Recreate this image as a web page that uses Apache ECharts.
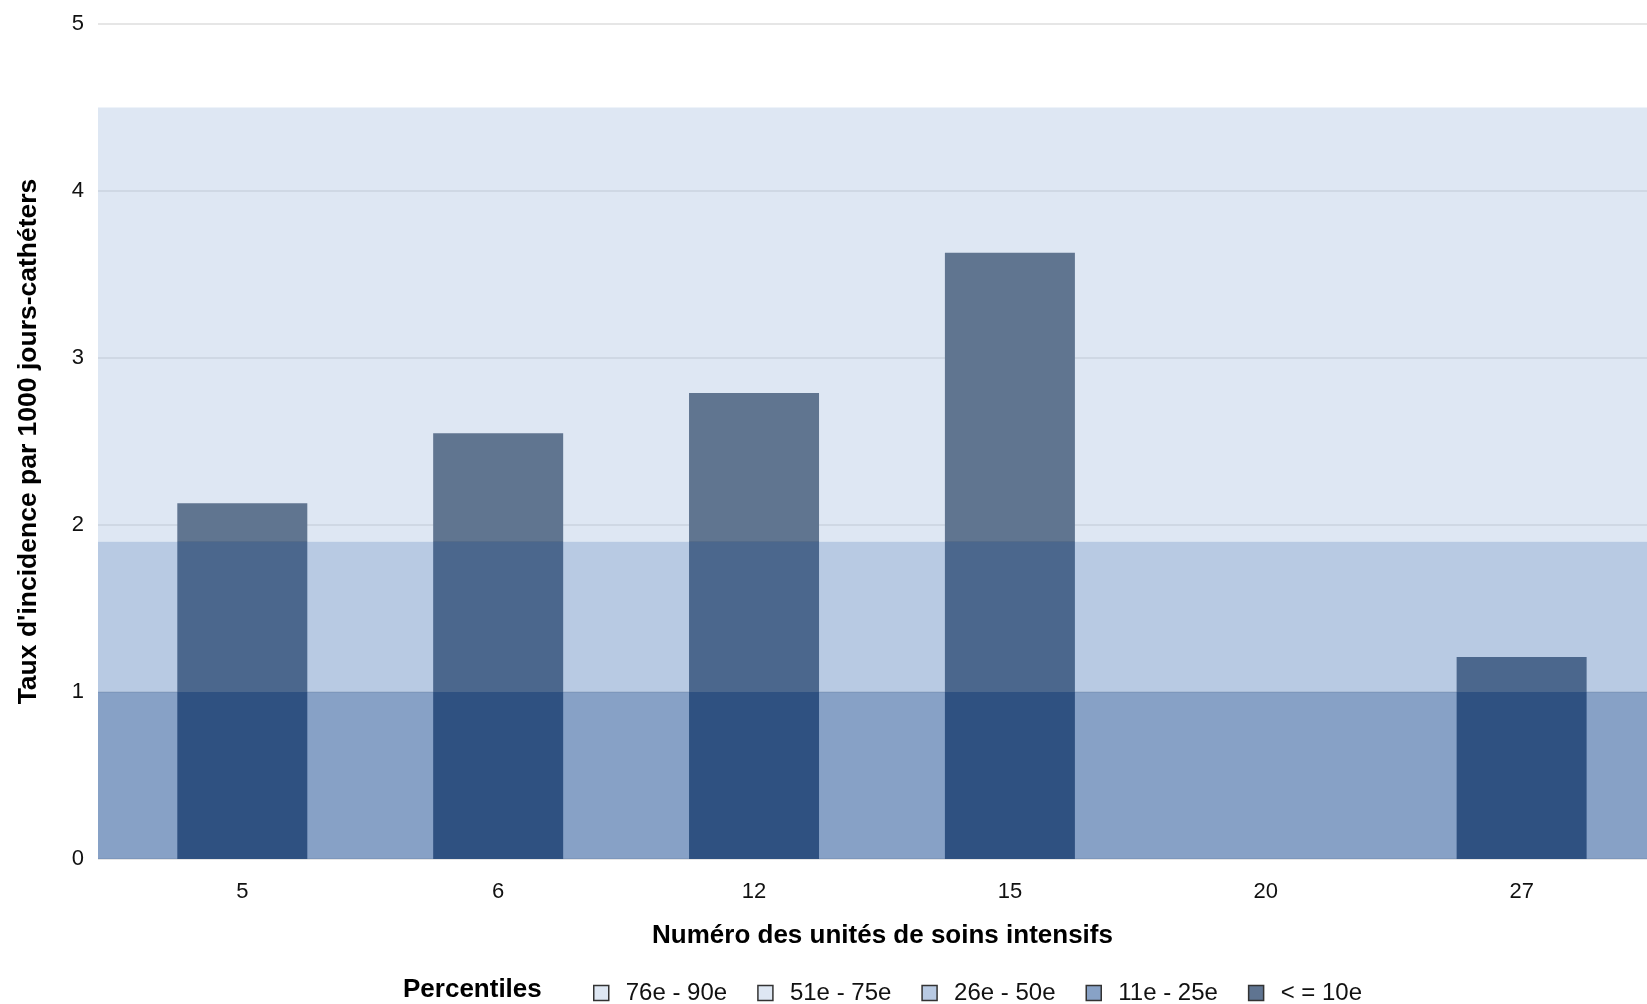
<!DOCTYPE html>
<html>
<head>
<meta charset="utf-8">
<script src="https://cdn.jsdelivr.net/npm/echarts@6/dist/echarts.min.js"></script>
<style>
html,body{margin:0;padding:0;background:#fff;}
#chart{width:1647px;height:1004px;}
</style>
</head>
<body>
<div id="chart"></div>
<script>
// ---- data ----
const categories = ['5', '6', '12', '15', '20', '27'];
const rates = [2.13, 2.55, 2.79, 3.63, 0, 1.21];
const yTicks = [0, 1, 2, 3, 4, 5];
const bandNames = ['76e - 90e', '51e - 75e', '26e - 50e', '11e - 25e', '< = 10e'];
const bandLow  = [3.0, 1.9, 1.0, 0, 0];
const bandHigh = [4.5, 3.0, 1.9, 1.0, 0];

// ---- styles ----
const legendColors = ['#dee7f3', '#dee7f3', '#b8cae3', '#88a2c6', '#5f7491'];
const bandColors = [
  'rgba(175,197,226,0.414)',
  'rgba(175,197,226,0.414)',
  'rgba(111,147,198,0.493)',
  'rgba(53,97,158,0.591)',
  'rgba(40,60,86,0.5)'
];
const barColor = '#283c56';
const FONT = '"Liberation Sans", Arial, sans-serif';

const chart = echarts.init(document.getElementById('chart'), null, {renderer: 'canvas'});

const bandSeries = bandNames.map((name, i) => ({
  name: name,
  type: 'line',
  data: [],
  itemStyle: {color: legendColors[i]},
  lineStyle: {color: legendColors[i]},
  markArea: {
    silent: true,
    z: 5,
    itemStyle: {color: bandColors[i]},
    data: bandHigh[i] > bandLow[i] ? [[{yAxis: bandLow[i]}, {yAxis: bandHigh[i]}]] : []
  }
}));

const option = {
  animation: false,
  backgroundColor: '#ffffff',
  textStyle: {fontFamily: FONT},
  title: {
    text: 'Percentiles',
    left: 398,
    top: 972,
    textStyle: {fontFamily: FONT, fontSize: 26, fontWeight: 'bold', color: '#000'}
  },
  legend: {
    left: 588,
    top: 976,
    icon: 'rect',
    itemWidth: 15,
    itemHeight: 15,
    itemGap: 30,
    data: bandNames,
    itemStyle: {borderColor: '#333', borderWidth: 1.5},
    textStyle: {fontFamily: FONT, fontSize: 24, color: '#111', padding: [0, 0, 0, 12]}
  },
  grid: {left: 98, right: 0, top: 24, bottom: 145, containLabel: false},
  xAxis: {
    type: 'value',
    min: -0.564,
    max: 5.49,
    name: 'Numéro des unités de soins intensifs',
    nameLocation: 'middle',
    nameGap: 64,
    nameTextStyle: {fontFamily: FONT, fontSize: 26, fontWeight: 'bold', color: '#000', padding: [0, 0, 0, 20]},
    axisLine: {show: false},
    axisTick: {show: false},
    splitLine: {show: false},
    axisLabel: {
      customValues: categories.map((c, i) => i),
      formatter: v => categories[Math.round(v)],
      fontFamily: FONT, fontSize: 22, color: '#111', margin: 22
    }
  },
  yAxis: {
    type: 'value',
    min: 0,
    max: 5,
    interval: 1,
    name: "Taux d'incidence par 1000 jours-cathéters",
    nameLocation: 'middle',
    nameGap: 56,
    nameTextStyle: {fontFamily: FONT, fontSize: 26.5, fontWeight: 'bold', color: '#000'},
    axisLine: {show: false},
    axisTick: {show: false},
    axisLabel: {
      fontFamily: FONT, fontSize: 22, color: '#111', margin: 14,
      formatter: v => String(yTicks[yTicks.indexOf(v)])
    },
    splitLine: {lineStyle: {color: '#e6e6e6', width: 2}}
  },
  series: [
    {
      name: 'rates',
      type: 'bar',
      z: 2,
      barWidth: 130,
      itemStyle: {color: barColor},
      data: rates.map((v, i) => [i, v])
    }
  ].concat(bandSeries)
};

chart.setOption(option);
</script>
</body>
</html>
